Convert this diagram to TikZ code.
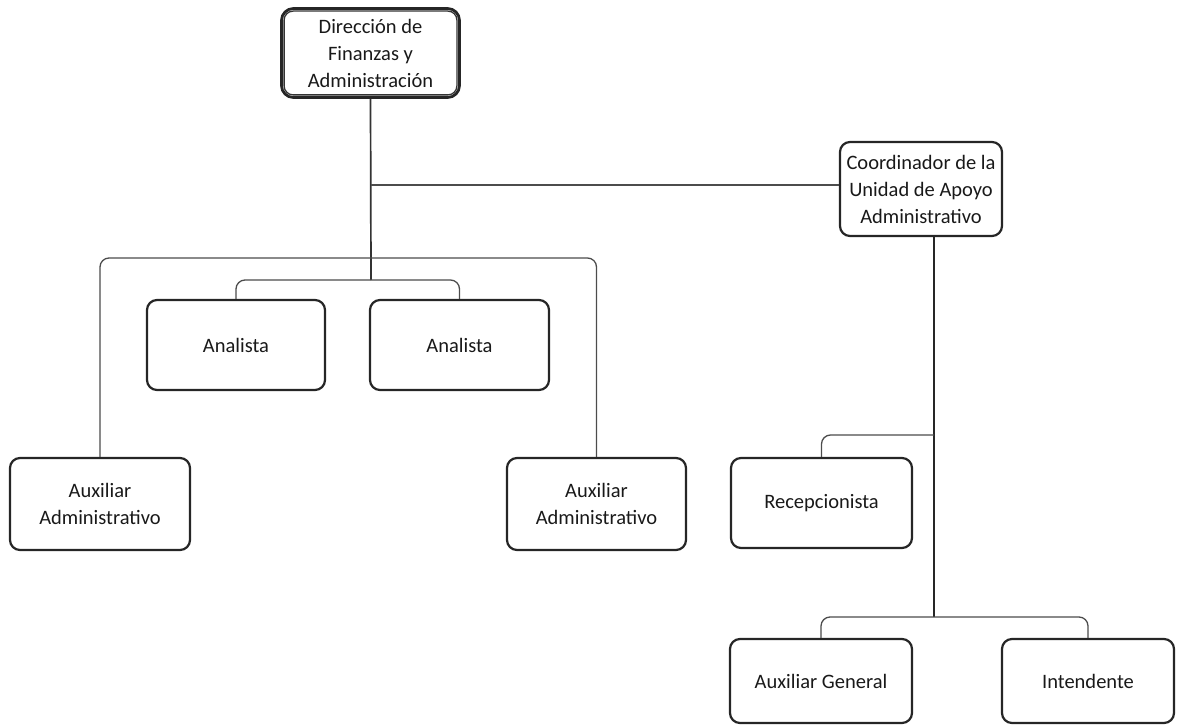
\documentclass[tikz,border=0pt]{standalone}
\usepackage{fontspec}
\setmainfont{Carlito}
\begin{document}
\begin{tikzpicture}[x=1pt,y=-1pt,
  box/.style={draw=black!85, line width=2.2pt, rounded corners=10pt, align=center,
    inner sep=0pt, font=\fontsize{20.5}{27}\selectfont, text=black!90},
  conn/.style={draw=black!70, line width=1.3pt, rounded corners=9pt},
  trunk/.style={draw=black!85, line width=2.6pt, rounded corners=9pt}]
\useasboundingbox (0,0) rectangle (1177,727);
% boxes
\node[box, line width=2.8pt, rounded corners=12pt,
  minimum width=178pt, minimum height=89pt] (top) at (370.5,53)
  {Dirección de\\Finanzas y\\Administración};
\draw[black!80, line width=1.3pt, rounded corners=9pt]
  ([shift={(4pt,-4pt)}]top.north west) rectangle ([shift={(-4pt,4pt)}]top.south east);
\node[box, minimum width=162pt, minimum height=94pt] (coord) at (921,189)
  {Coordinador de la\\Unidad de Apoyo\\Administrativo};
\node[box, minimum width=178pt, minimum height=90pt] (an1) at (236,345) {Analista};
\node[box, minimum width=179pt, minimum height=90pt] (an2) at (459.5,345) {Analista};
\node[box, minimum width=180pt, minimum height=92pt] (auxL) at (100,504) {Auxiliar\\Administrativo};
\node[box, minimum width=179pt, minimum height=92pt] (auxR) at (596.5,504) {Auxiliar\\Administrativo};
\node[box, minimum width=181pt, minimum height=90pt] (recep) at (821.5,503) {Recepcionista};
\node[box, minimum width=182pt, minimum height=84pt] (ag) at (821,681) {Auxiliar General};
\node[box, minimum width=172pt, minimum height=84pt] (int) at (1088,681) {Intendente};
% junction coordinates
\coordinate (jo) at (371,258);
\coordinate (ji) at (371,280);
\coordinate (tt) at (934,236);
\coordinate (jr) at (934,435);
\coordinate (jb) at (934,617);
% connectors
\draw[conn, line width=1.7pt, draw=black!80] (top.south) -- (ji);
\draw[conn] (top.south |- 0,185) -- (coord.west |- 0,185);
\draw[conn] (auxL.north) |- (jo) -| (auxR.north);
\draw[conn] (an1.north) |- (ji) -| (an2.north);
\draw[trunk] (tt) -- (jb);
\draw[conn] (recep.north) |- (jr);
\draw[conn] (ag.north) |- (jb) -| (int.north);
\end{tikzpicture}
\end{document}
